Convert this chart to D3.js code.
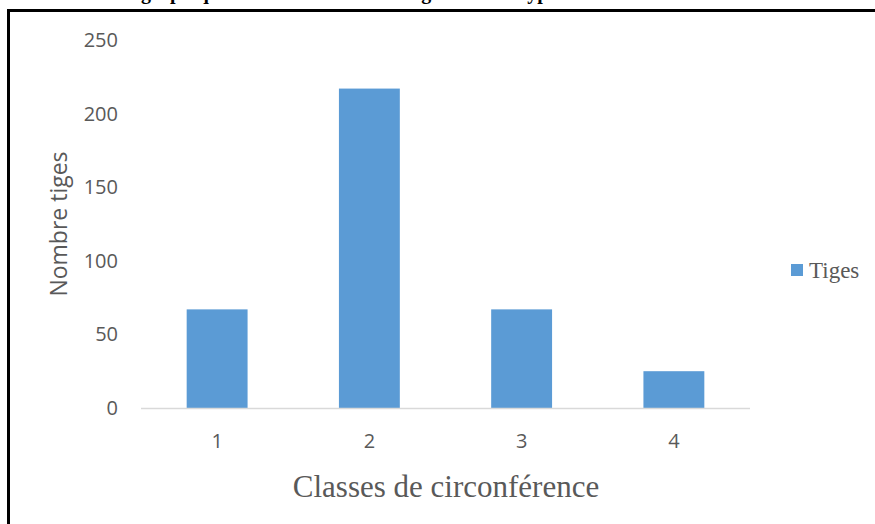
<!DOCTYPE html>
<html>
<head>
<meta charset="utf-8">
<script src="https://cdn.jsdelivr.net/npm/d3@7/dist/d3.min.js"></script>
<style>
html,body{margin:0;padding:0;background:#fff;}
svg{display:block;}
</style>
</head>
<body>
<svg id="chart" width="875" height="524"></svg>
<script>
const categories = ["1", "2", "3", "4"];
const tiges = [67, 217, 67, 25];
const yTicks = [0, 50, 100, 150, 200, 250];
const seriesName = "Tiges";
const xTitle = "Classes de circonférence";
const yTitle = "Nombre tiges";
const topTitle = "graphique du nombre total des tiges selon le type";

const svg = d3.select("#chart");
const W = 875, H = 524;
svg.append("rect").attr("width", W).attr("height", H).attr("fill", "#fff");

// cut-off title above frame (only its descenders show, as in the reference)
svg.append("text").attr("x", 141).attr("y", -1)
  .attr("font-family", "Liberation Serif").attr("font-weight", "bold")
  .attr("font-size", 20).attr("fill", "#000").text(topTitle);

// frame
svg.append("rect").attr("x", 8.5).attr("y", 10.5).attr("width", W + 10).attr("height", H + 10)
  .attr("fill", "none").attr("stroke", "#000").attr("stroke-width", 3);

const pLeft = 141, pRight = 750, pTop = 40, pBottom = 408;

const x = d3.scaleBand().domain(categories).range([pLeft, pRight])
  .paddingInner(0.6).paddingOuter(0.3);
const y = d3.scaleLinear().domain([0, 250]).range([pBottom, pTop]);

// bars
svg.append("g").selectAll("rect").data(categories).join("rect")
  .attr("x", d => x(d))
  .attr("y", (d, i) => y(tiges[i]))
  .attr("width", x.bandwidth())
  .attr("height", (d, i) => y(0) - y(tiges[i]))
  .attr("fill", "#5B9BD5");

// y axis
const yAxis = d3.axisLeft(y).tickValues(yTicks).tickSize(0).tickPadding(0);
const gy = svg.append("g").attr("transform", `translate(${pLeft - 23},0)`).call(yAxis);
gy.select(".domain").remove();
gy.selectAll("text").attr("font-family", "Open Sans, Liberation Sans, sans-serif")
  .attr("font-size", 20).attr("fill", "#595959");

// x axis
const xAxis = d3.axisBottom(x).tickSize(0).tickPadding(0);
const gx = svg.append("g").attr("transform", `translate(0,${pBottom})`).call(xAxis);
gx.select(".domain").attr("stroke", "#d9d9d9").attr("stroke-width", 1.5)
  .attr("d", `M${pLeft},0.5H${pRight}`);
gx.selectAll("text").attr("dy", null).attr("y", 40)
  .attr("font-family", "Open Sans, Liberation Sans, sans-serif")
  .attr("font-size", 20).attr("fill", "#595959");

// axis titles
svg.append("text").attr("x", (pLeft + pRight) / 2 + 0.5).attr("y", 497)
  .attr("text-anchor", "middle")
  .attr("font-family", "Liberation Serif").attr("font-size", 31).attr("fill", "#595959")
  .text(xTitle);

svg.append("text").attr("transform", `translate(67,${(pTop + pBottom) / 2}) rotate(-90)`)
  .attr("text-anchor", "middle")
  .attr("font-family", "Open Sans, Liberation Sans, sans-serif").attr("font-size", 23).attr("fill", "#595959")
  .text(yTitle);

// legend
const lg = svg.append("g").attr("transform", "translate(791,264)");
lg.append("rect").attr("width", 12).attr("height", 12).attr("fill", "#5B9BD5");
lg.append("text").attr("x", 18).attr("y", 14)
  .attr("font-family", "Liberation Serif").attr("font-size", 23).attr("fill", "#595959")
  .text(seriesName);
</script>
</body>
</html>
